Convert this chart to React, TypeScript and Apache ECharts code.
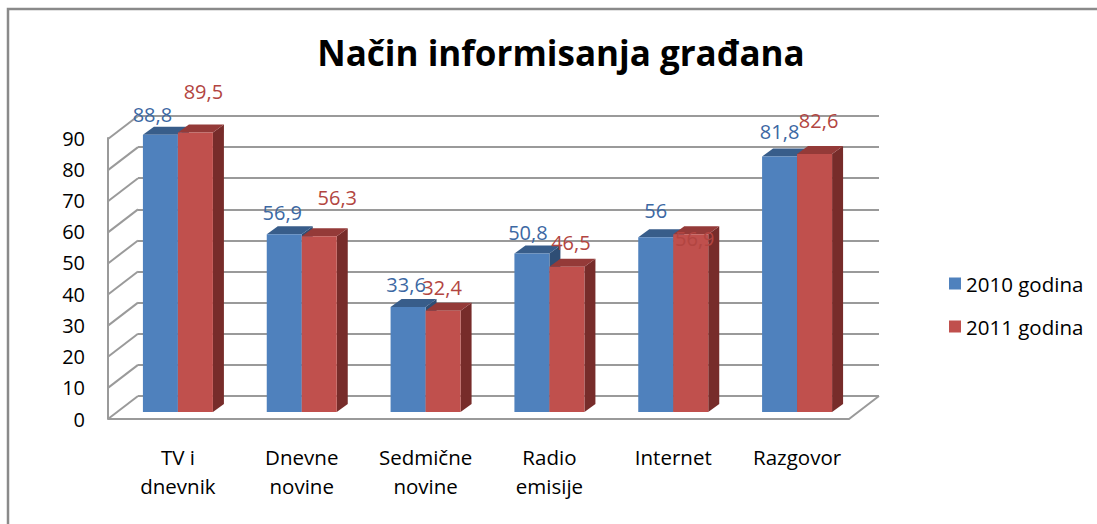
import React, { useEffect, useRef } from "react";
import * as echarts from "echarts";

const categories = ["TV i\ndnevnik", "Dnevne\nnovine", "Sedmične\nnovine", "Radio\nemisije", "Internet", "Razgovor"];
const seriesNames = ["2010 godina", "2011 godina"];
const values2010 = [88.8, 56.9, 33.6, 50.8, 56, 81.8];
const values2011 = [89.5, 56.3, 32.4, 46.5, 56.9, 82.6];
const yTicks = [0, 10, 20, 30, 40, 50, 60, 70, 80, 90];

// label placement relative to bar top (style, not data)
const labelShift2010 = [[-8, -20], [-2, -22], [-2, -23], [-4, -21], [0, -27], [0, -25]];
const labelShift2011 = [[8, -41], [18, -39], [-1, -23], [4, -24], [4, 4], [4, -34]];

const FONT = "'Open Sans', sans-serif";
const BAR_W = 35;
const DEPTH_X = 11;
const DEPTH_Y = 8;
const WALL_DX = 30;
const WALL_DY = 23;
const GRID_COLOR = "#9a9a9a";

const fmt = (v: number) => String(v).replace(".", ",");

function makeBarRenderer(idx: number, front: string, top: string, side: string, labelColor: string, shifts: number[][]) {
  return (params: any, api: any) => {
    const cat = api.value(0);
    const val = api.value(1);
    const base = api.coord([cat, 0]);
    const tp = api.coord([cat, val]);
    const x0 = idx === 0 ? base[0] - BAR_W : base[0];
    const x1 = x0 + BAR_W;
    const yB = base[1];
    const yT = tp[1];
    const sh = shifts[params.dataIndex] || [0, -25];
    return {
      type: "group",
      children: [
        {
          type: "polygon",
          shape: { points: [[x1, yB], [x1 + DEPTH_X, yB - DEPTH_Y], [x1 + DEPTH_X, yT - DEPTH_Y], [x1, yT]] },
          style: { fill: side },
        },
        {
          type: "polygon",
          shape: { points: [[x0, yT], [x0 + DEPTH_X, yT - DEPTH_Y], [x1 + DEPTH_X, yT - DEPTH_Y], [x1, yT]] },
          style: { fill: top },
        },
        {
          type: "rect",
          shape: { x: x0, y: yT, width: BAR_W, height: yB - yT },
          style: { fill: front },
        },
        {
          type: "text",
          x: (x0 + x1) / 2 + sh[0],
          y: yT + sh[1],
          z2: 100,
          style: {
            text: fmt(val),
            fill: labelColor,
            font: `20px ${FONT}`,
            textAlign: "center",
            textVerticalAlign: "middle",
          },
        },
      ],
    };
  };
}

export default function App() {
  const ref = useRef<HTMLDivElement>(null);
  useEffect(() => {
    if (!ref.current) return;
    const chart = echarts.init(ref.current, null, { renderer: "svg" });
    const wallRender = (params: any, api: any) => {
      const v = api.value(1);
      const p = api.coord([0, v]);
      const children: any[] = [
        {
          type: "line",
          shape: { x1: p[0], y1: p[1], x2: p[0] - WALL_DX, y2: p[1] + WALL_DY },
          style: { stroke: GRID_COLOR, lineWidth: 2 },
        },
      ];
      if (v === 0) {
        const r = api.coord([1, 0]);
        children.push({
          type: "polyline",
          shape: { points: [[p[0] - WALL_DX, p[1] + WALL_DY], [r[0] - WALL_DX, r[1] + WALL_DY], [r[0], r[1]]] },
          style: { stroke: GRID_COLOR, lineWidth: 2, fill: null },
        });
      }
      return { type: "group", children };
    };

    chart.setOption({
      animation: false,
      backgroundColor: "#ffffff",
      title: {
        text: "Način informisanja građana",
        left: 556,
        top: 30,
        textAlign: "center",
        textStyle: { fontFamily: FONT, fontSize: 35, fontWeight: "bold", color: "#000" },
      },
      legend: {
        data: seriesNames,
        orient: "vertical",
        left: 944,
        top: 268,
        itemWidth: 12,
        itemHeight: 12,
        itemGap: 22,
        icon: "rect",
        textStyle: { fontFamily: FONT, fontSize: 20.5, color: "#000" },
      },
      graphic: [
        {
          type: "rect",
          shape: { x: 8, y: 9, width: 1200, height: 600 },
          style: { fill: null, stroke: "#8a8a8a", lineWidth: 2.5 },
          silent: true,
        },
      ],
      grid: [
        { left: 138, right: 218, top: 116, bottom: 128 },
        { left: 108, right: 218, top: 138, bottom: 105 },
        { left: 116, right: 238, top: 131, bottom: 112 },
      ],
      xAxis: [
        { gridIndex: 0, type: "value", min: 0, max: 1, show: false },
        { gridIndex: 1, type: "value", min: 0, max: 1, show: false },
        {
          gridIndex: 2,
          type: "category",
          data: categories,
          axisLine: { show: false },
          axisTick: { show: false },
          axisLabel: { margin: 30, fontFamily: FONT, fontSize: 20.5, color: "#000", lineHeight: 29, interval: 0 },
        },
      ],
      yAxis: [
        {
          gridIndex: 0,
          type: "value",
          min: 0,
          max: 90,
          interval: 10,
          axisLine: { show: false },
          axisTick: { show: false },
          axisLabel: { show: false },
          splitLine: { show: true, lineStyle: { color: GRID_COLOR, width: 2 } },
        },
        {
          gridIndex: 1,
          type: "value",
          min: 0,
          max: 90,
          interval: 10,
          axisLine: { show: true, lineStyle: { color: GRID_COLOR, width: 2 } },
          axisTick: { show: false },
          splitLine: { show: false },
          axisLabel: { margin: 23, fontFamily: FONT, fontSize: 20, color: "#000" },
        },
        { gridIndex: 2, type: "value", min: 0, max: 90, show: false },
      ],
      series: [
        {
          type: "custom",
          name: "wall",
          xAxisIndex: 0,
          yAxisIndex: 0,
          silent: true,
          clip: false,
          z: 1,
          data: yTicks.map((v) => [0, v]),
          renderItem: wallRender,
        },
        {
          type: "custom",
          name: seriesNames[0],
          xAxisIndex: 2,
          yAxisIndex: 2,
          clip: false,
          z: 3,
          itemStyle: { color: "#4F81BD" },
          data: values2010.map((v, i) => [i, v]),
          renderItem: makeBarRenderer(0, "#4F81BD", "#385D8A", "#2F4E75", "#3C68A3", labelShift2010),
        },
        {
          type: "custom",
          name: seriesNames[1],
          xAxisIndex: 2,
          yAxisIndex: 2,
          clip: false,
          z: 4,
          itemStyle: { color: "#C0504D" },
          data: values2011.map((v, i) => [i, v]),
          renderItem: makeBarRenderer(1, "#C0504D", "#943A38", "#772C2A", "#B24541", labelShift2011),
        },
      ],
    });
    return () => chart.dispose();
  }, []);
  return <div ref={ref} style={{ position: "fixed", left: 0, top: 0, width: 1097, height: 524 }} />;
}
